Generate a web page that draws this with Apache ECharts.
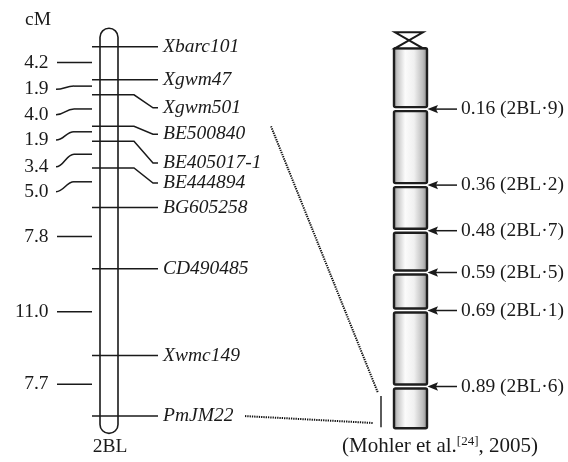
<!DOCTYPE html>
<html><head><meta charset="utf-8">
<script src="https://cdn.jsdelivr.net/npm/echarts@6/dist/echarts.min.js"></script>
<style>html,body{margin:0;padding:0;background:#fff}#c{width:568px;height:462px}</style>
</head><body><div id="c"></div>
<script>
// ---------- data ----------
const markerNames   = ['Xbarc101','Xgwm47','Xgwm501','BE500840','BE405017-1','BE444894','BG605258','CD490485','Xwmc149','PmJM22'];
const markerCM      = [0, 4.2, 6.1, 10.1, 12.0, 15.4, 20.4, 28.2, 39.2, 46.9];
const markerLabelCM = [0, 4.2, 7.75, 11.1, 14.75, 17.3, 20.4, 28.2, 39.2, 46.9];
const intervalLabels = ['4.2','1.9','4.0','1.9','3.4','5.0','7.8','11.0','7.7'];
const intervalTickCM  = [2.0, 5.0, 7.9, 10.8, 13.65, 17.15, 24.1, 33.65, 42.85];
const intervalLabelCM = [2.0, 5.4, 8.65, 11.85, 15.25, 18.4, 24.1, 33.65, 42.85];
const leftChromCM = [-2.35, 49.1];
const binFrac  = [0.16, 0.36, 0.48, 0.59, 0.69, 0.89];
const binNames = ['2BL·9','2BL·2','2BL·7','2BL·5','2BL·1','2BL·6'];
const segBounds = [0, 0.16, 0.36, 0.48, 0.59, 0.69, 0.89, 1.0];
const pmRegion = [0.915, 0.997];
const linkFromCM = [10.1, 46.9];
const linkToFrac = [0.907, 0.986];

// ---------- style ----------
const FONT = '"Liberation Serif","Times New Roman",serif';
const FS = 19.5;
const INK = '#1a1a1a';
const LW = 1.5;

const chart = echarts.init(document.getElementById('c'), null, {renderer:'canvas'});

const segments = [];
for (let i = 0; i < segBounds.length - 1; i++) segments.push([segBounds[i], segBounds[i+1]]);

const option = {
  animation: false,
  backgroundColor: '#fff',
  grid: {left: 0, right: 0, top: 31, bottom: 29.4},
  xAxis: {type: 'value', min: 0, max: 568, show: false},
  yAxis: [
    {type: 'value', inverse: true, min: -2, max: 49, show: false},
    {type: 'value', inverse: true, min: -0.04553, max: 1.01131, show: false}
  ],
  series: [
    { // left chromosome body
      type: 'custom', yAxisIndex: 0, clip: false, silent: true,
      data: [leftChromCM],
      renderItem(params, api) {
        const a = api.coord([100, api.value(0)]), b = api.coord([118, api.value(1)]);
        return {type: 'rect', shape: {x: a[0], y: a[1], width: b[0]-a[0], height: b[1]-a[1], r: 9},
                style: {fill: '#fff', stroke: INK, lineWidth: 1.6}};
      }
    },
    { // markers
      type: 'custom', yAxisIndex: 0, clip: false, silent: true,
      data: markerCM.map((v, i) => [v, markerLabelCM[i]]),
      renderItem(params, api) {
        const y = api.coord([0, api.value(0)])[1];
        const yl = api.coord([0, api.value(1)])[1];
        const X = v => api.coord([v, 0])[0];
        const pts = Math.abs(yl - y) < 0.5
          ? [[X(92), y], [X(158), y]]
          : [[X(92), y], [X(134), y], [X(153), yl], [X(158), yl]];
        return {type: 'group', children: [
          {type: 'polyline', shape: {points: pts}, style: {stroke: INK, lineWidth: LW, fill: null}},
          {type: 'text', x: X(163), y: yl, style: {text: markerNames[params.dataIndex], fontSize: FS, fontFamily: FONT,
            fontStyle: 'italic', fill: INK, align: 'left', verticalAlign: 'middle'}}
        ]};
      }
    },
    { // interval distances
      type: 'custom', yAxisIndex: 0, clip: false, silent: true,
      data: intervalTickCM.map((v, i) => [v, intervalLabelCM[i]]),
      renderItem(params, api) {
        const yt = api.coord([0, api.value(0)])[1];
        const yl = api.coord([0, api.value(1)])[1];
        const X = v => api.coord([v, 0])[0];
        const ch = [];
        if (Math.abs(yl - yt) < 0.5) {
          ch.push({type: 'line', shape: {x1: X(57), y1: yl, x2: X(92), y2: yl}, style: {stroke: INK, lineWidth: LW}});
        } else {
          ch.push({type: 'bezierCurve', shape: {x1: X(56), y1: yl, cpx1: X(64), cpy1: yl, cpx2: X(66), cpy2: yt, x2: X(74), y2: yt},
                   style: {stroke: INK, lineWidth: LW, fill: null}});
          ch.push({type: 'line', shape: {x1: X(74), y1: yt, x2: X(92), y2: yt}, style: {stroke: INK, lineWidth: LW}});
        }
        ch.push({type: 'text', x: X(48.5), y: yl, style: {text: intervalLabels[params.dataIndex], fontSize: FS, fontFamily: FONT,
          fill: INK, align: 'right', verticalAlign: 'middle'}});
        return {type: 'group', children: ch};
      }
    },
    { // right chromosome segments
      type: 'custom', yAxisIndex: 1, clip: false, silent: true,
      data: segments,
      renderItem(params, api) {
        const s = api.value(0), e = api.value(1);
        const a = api.coord([394, s]), b = api.coord([427, e]);
        const y1 = a[1] + (s > 0 ? 2 : 0), y2 = b[1] - (e < 1 ? 2 : 0);
        const ch = [{type: 'rect', shape: {x: a[0], y: y1, width: b[0]-a[0], height: y2-y1, r: 1.5},
          style: {stroke: '#1e1e1e', lineWidth: 2.4,
            fill: {type: 'linear', x: 0, y: 0, x2: 1, y2: 0, colorStops: [
              {offset: 0, color: '#808080'}, {offset: 0.12, color: '#c4c4c4'}, {offset: 0.35, color: '#fbfbfb'},
              {offset: 0.6, color: '#f0f0f0'}, {offset: 0.85, color: '#bdbdbd'}, {offset: 1, color: '#808080'}]}}}];
        if (s === 0) {
          const yt = a[1];
          ch.push({type: 'polygon', shape: {points: [[a[0]+1, yt-16], [b[0]-4, yt-16], [a[0]+1, yt], [b[0]-4, yt]]},
                   style: {fill: '#fff', stroke: INK, lineWidth: 2}});
        }
        return {type: 'group', children: ch};
      }
    },
    { // deletion bin arrows
      type: 'custom', yAxisIndex: 1, clip: false, silent: true,
      data: binFrac.map(v => [v]),
      renderItem(params, api) {
        const v = api.value(0);
        const y = api.coord([0, v])[1];
        const X = q => api.coord([q, 0])[0];
        return {type: 'group', children: [
          {type: 'line', shape: {x1: X(457), y1: y, x2: X(435), y2: y}, style: {stroke: INK, lineWidth: 1.5}},
          {type: 'polygon', shape: {points: [[X(427.5), y], [X(438), y-4.2], [X(436), y], [X(438), y+4.2]]}, style: {fill: INK}},
          {type: 'text', x: X(461), y: y, style: {text: v.toFixed(2) + ' (' + binNames[params.dataIndex] + ')', fontSize: FS,
            fontFamily: FONT, fill: INK, align: 'left', verticalAlign: 'middle'}}
        ]};
      }
    },
    { // PmJM22 region bar
      type: 'custom', yAxisIndex: 1, clip: false, silent: true,
      data: [pmRegion],
      renderItem(params, api) {
        const a = api.coord([381, api.value(0)]), b = api.coord([381, api.value(1)]);
        return {type: 'line', shape: {x1: a[0], y1: a[1], x2: b[0], y2: b[1]}, style: {stroke: '#333', lineWidth: 1.6}};
      }
    }
  ]
};
chart.setOption(option);

// second pass: dotted links that join the two axes, plus free text
const linkStartX = [271, 245];
const linkEndX = [378, 373];
const gfx = [];
for (let i = 0; i < linkFromCM.length; i++) {
  const y1 = chart.convertToPixel({yAxisIndex: 0}, linkFromCM[i]);
  const y2 = chart.convertToPixel({yAxisIndex: 1}, linkToFrac[i]);
  const x1 = chart.convertToPixel({xAxisIndex: 0}, linkStartX[i]);
  const x2 = chart.convertToPixel({xAxisIndex: 0}, linkEndX[i]);
  gfx.push({type: 'line', shape: {x1, y1, x2, y2}, style: {stroke: '#111', lineWidth: 2, lineDash: [1.3, 1]}, silent: true});
}
gfx.push({type: 'text', x: 38, y: 20, style: {text: 'cM', fontSize: FS, fontFamily: FONT, fill: INK, align: 'center', verticalAlign: 'middle'}});
gfx.push({type: 'text', x: 110, y: 447, style: {text: '2BL', fontSize: FS, fontFamily: FONT, fill: INK, align: 'center', verticalAlign: 'middle'}});
gfx.push({type: 'text', x: 440, y: 446, style: {text: '(Mohler et al.{sup|[24]}, 2005)', fontSize: 21, fontFamily: FONT, fill: INK,
  align: 'center', verticalAlign: 'middle',
  rich: {sup: {fontSize: 13, fontFamily: FONT, fill: INK, verticalAlign: 'top', padding: [0, 0, 9, 0]}}}});
chart.setOption({graphic: gfx});
</script></body></html>
